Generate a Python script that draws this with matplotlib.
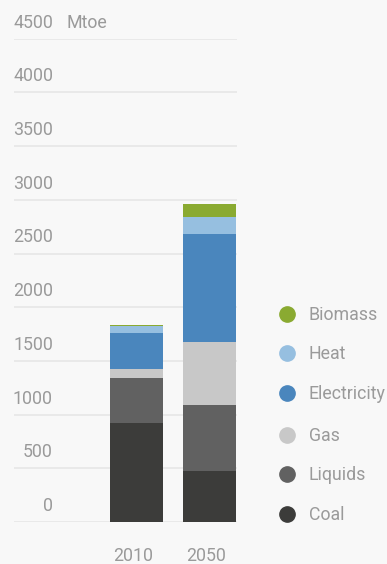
import numpy as np
import matplotlib.pyplot as plt
from matplotlib.lines import Line2D

years = ['2010', '2050']
sources = ['Coal', 'Liquids', 'Gas', 'Electricity', 'Heat', 'Biomass']
coal = [920, 475]
liquids = [420, 615]
gas = [85, 585]
electricity = [335, 1005]
heat = [65, 160]
biomass = [10, 120]
colors = ['#3c3c3a', '#616161', '#c8c8c8', '#4a86bd', '#96bfe0', '#8aaa31']
yticks = [0, 500, 1000, 1500, 2000, 2500, 3000, 3500, 4000, 4500]

plt.rcParams['font.family'] = ['Roboto', 'DejaVu Sans']
txt = '#9a9a9a'
bg = '#f8f8f8'
fs = 12.8

W, H = 387, 564
fig = plt.figure(figsize=(W / 100, H / 100), dpi=100, facecolor=bg)
ax = fig.add_axes([14 / W, 42 / H, 223 / W, 483.3 / H], facecolor=bg)

x = np.arange(len(years))
bottom = np.zeros(len(years))
for vals, c in zip([coal, liquids, gas, electricity, heat, biomass], colors):
    ax.bar(x, vals, width=0.726, bottom=bottom, color=c, zorder=3)
    bottom += np.array(vals)

ax.set_xlim(-1.678, 1.377)
ax.set_ylim(0, 4500)
for t in yticks:
    ax.axhline(t, color='#e6e6e6', lw=1.2, zorder=1)
for s in ax.spines.values():
    s.set_visible(False)
ax.set_xticks([])
ax.set_yticks([])

# tick labels sit above their gridlines
for t in yticks:
    ax.annotate(str(t), (0, t), xycoords=('axes fraction', 'data'),
                xytext=(39, 16), textcoords='offset pixels',
                ha='right', va='center', color=txt, fontsize=fs)
ax.annotate('Mtoe', (0, 4500), xycoords=('axes fraction', 'data'),
            xytext=(53, 16), textcoords='offset pixels',
            ha='left', va='center', color=txt, fontsize=fs)
for i, yr in enumerate(years):
    ax.annotate(yr, (i, 0), xycoords='data', xytext=(-3, -34),
                textcoords='offset pixels', ha='center', va='center',
                color=txt, fontsize=fs)

# legend, top to bottom
ys = [314, 353, 393, 435, 474, 514]
for name, c, yy in zip(sources[::-1], colors[::-1], ys):
    fig.add_artist(Line2D([287 / W], [1 - yy / H], marker='o', markersize=11,
                          color=c, lw=0, transform=fig.transFigure))
    fig.text(309 / W, 1 - (yy + 1) / H, name, ha='left', va='center',
             color=txt, fontsize=fs)

fig.savefig('out.png', dpi=100, facecolor=bg)
